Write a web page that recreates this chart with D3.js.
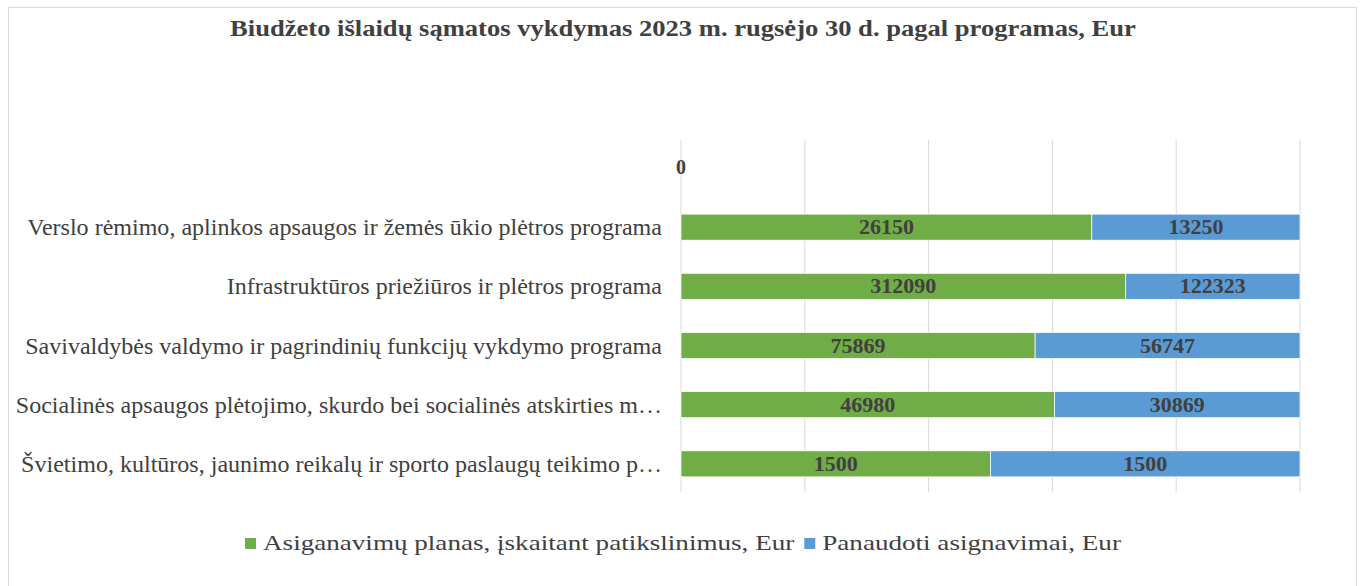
<!DOCTYPE html>
<html lang="lt">
<head>
    <meta charset="UTF-8">
    <title>Biudžeto išlaidų sąmatos vykdymas</title>
    <script src="https://d3js.org/d3.v7.min.js"></script>
    <style>
        body { margin: 0; background: #fff; }
        text { font-family: "Liberation Serif", "DejaVu Serif", serif; }
    </style>
</head>
<body>
<script>
    const width = 1362;
    const height = 586;

    const categories = [
        "Verslo rėmimo, aplinkos apsaugos ir žemės ūkio plėtros programa",
        "Infrastruktūros priežiūros ir plėtros programa",
        "Savivaldybės valdymo ir pagrindinių funkcijų vykdymo programa",
        "Socialinės apsaugos plėtojimo, skurdo bei socialinės atskirties m…",
        "Švietimo, kultūros, jaunimo reikalų ir sporto paslaugų teikimo p…"
    ];
    const seriesNames = ["Asiganavimų planas, įskaitant patikslinimus, Eur", "Panaudoti asignavimai, Eur"];
    const planas = [26150, 312090, 75869, 46980, 1500];
    const panaudoti = [13250, 122323, 56747, 30869, 1500];
    const tickLabels = ["0"];
    const colors = ["#70ad47", "#5b9bd5"];

    const svg = d3.select("body").append("svg")
            .attr("width", width).attr("height", height);

    // the original font is a bit wider than Liberation Serif, so widen glyphs a little
    function stretch(sel, f) {
        sel.each(function() {
            const w = this.getComputedTextLength();
            d3.select(this).attr("textLength", w * f).attr("lengthAdjust", "spacingAndGlyphs");
        });
    }

    // chart frame
    svg.append("rect")
            .attr("x", 8.5).attr("y", 7.5)
            .attr("width", 1348).attr("height", 590)
            .style("fill", "none")
            .style("stroke", "#d9d9d9");

    svg.append("text")
            .attr("x", 683).attr("y", 36)
            .attr("text-anchor", "middle")
            .style("font-size", "23px")
            .style("font-weight", "bold")
            .style("fill", "#404040")
            .text("Biudžeto išlaidų sąmatos vykdymas 2023 m. rugsėjo 30 d. pagal programas, Eur")
            .call(stretch, 1.155);

    // 100% stacked
    const rows = categories.map((c, i) => {
        const total = planas[i] + panaudoti[i];
        return {cat: c, vals: [planas[i], panaudoti[i]], shares: [planas[i] / total, panaudoti[i] / total]};
    });

    const x = d3.scaleLinear().domain([0, 1]).range([681, 1300]);
    const y = d3.scaleBand().domain(categories).range([181, 510]).padding(0.56);

    // gridlines
    svg.append("g").attr("class", "grid")
            .selectAll("line")
            .data(x.ticks(5))
            .enter().append("line")
            .attr("x1", d => x(d)).attr("x2", d => x(d))
            .attr("y1", 140).attr("y2", 492)
            .style("stroke", "#d9d9d9")
            .style("stroke-width", 1);

    // axis labels (only zero is visible in the original)
    svg.append("g").selectAll("text")
            .data(tickLabels)
            .enter().append("text")
            .attr("x", (d, i) => x(i * 0.2))
            .attr("y", 167)
            .attr("dy", "0.35em")
            .attr("text-anchor", "middle")
            .style("font-size", "20px")
            .style("font-weight", "bold")
            .style("fill", "#404040")
            .text(d => d);

    // category labels
    svg.append("g").selectAll("text")
            .data(categories)
            .enter().append("text")
            .attr("x", 662)
            .attr("y", d => y(d) + y.bandwidth() / 2)
            .attr("dy", "0.35em")
            .attr("text-anchor", "end")
            .style("font-size", "23px")
            .style("fill", "#404040")
            .text(d => d)
            .call(stretch, 1.045);

    // bars
    const bar = svg.append("g").selectAll("g")
            .data(rows)
            .enter().append("g");

    [0, 1].forEach(k => {
        bar.append("rect")
                .attr("x", d => x(k === 0 ? 0 : d.shares[0]))
                .attr("y", d => y(d.cat))
                .attr("width", d => x(d.shares[k]) - x(0))
                .attr("height", y.bandwidth())
                .style("fill", colors[k])
                .style("stroke", "#fff")
                .style("stroke-width", 0.75);

        bar.append("text")
                .attr("x", d => {
                    const s = k === 0 ? 0 : d.shares[0];
                    return x(s + d.shares[k] / 2);
                })
                .attr("y", d => y(d.cat) + y.bandwidth() / 2)
                .attr("dy", "0.35em")
                .attr("text-anchor", "middle")
                .style("font-size", "20px")
                .style("font-weight", "bold")
                .style("fill", "#404040")
                .text(d => d.vals[k])
                .call(stretch, 1.1);
    });

    // legend, laid out left to right and centred
    const legend = svg.append("g").attr("transform", "translate(0,543)");
    const items = legend.selectAll("g")
            .data(seriesNames)
            .enter().append("g");
    items.append("rect")
            .attr("x", 0).attr("y", -5)
            .attr("width", 11).attr("height", 11)
            .style("fill", (d, i) => colors[i]);
    items.append("text")
            .attr("x", 18).attr("dy", "0.35em")
            .style("font-size", "21px")
            .style("fill", "#404040")
            .text(d => d)
            .call(stretch, 1.29);

    const gap = 10;
    let pos = 0;
    const offsets = [];
    items.each(function() {
        offsets.push(pos);
        pos += this.getBBox().width + gap;
    });
    const start = 683 - (pos - gap) / 2;
    items.attr("transform", (d, i) => `translate(${start + offsets[i]},0)`);
</script>
</body>
</html>
